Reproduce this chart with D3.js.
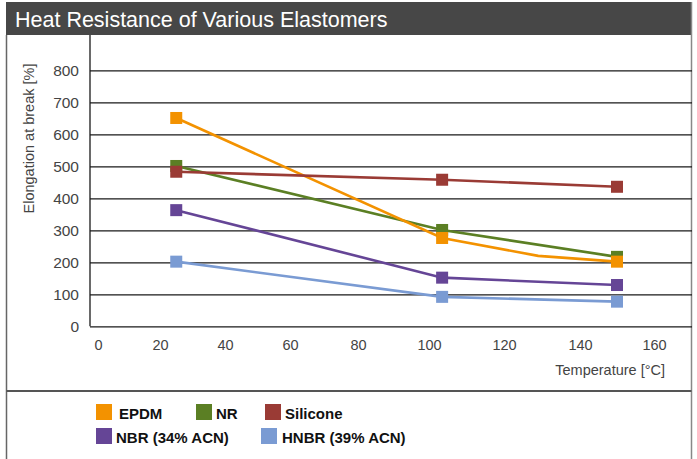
<!DOCTYPE html>
<html><head><meta charset="utf-8">
<script src="https://cdn.jsdelivr.net/npm/d3@7"></script>
<style>body{margin:0;background:#fff;} svg{display:block;font-family:"Liberation Sans",Arial,Helvetica,sans-serif;}</style>
</head><body><svg id="c" width="697" height="459"></svg>
<script>
// ---- data ----
const chartTitle = "Heat Resistance of Various Elastomers";
const yTitle = "Elongation at break [%]";
const xTitle = "Temperature [°C]";
const xTicks = [0, 20, 40, 60, 80, 100, 120, 140, 160];
const yTicks = [0, 100, 200, 300, 400, 500, 600, 700, 800];
const temps = [25, 103.5, 150];
const seriesNames = ["EPDM", "NR", "Silicone", "NBR (34% ACN)", "HNBR (39% ACN)"];
const seriesColors = ["#F39200", "#5B7F24", "#9A3B35", "#654596", "#7A9BD3"];
const epdm = [651, 276, 202];
const nr = [501, 301, 217];
const silicone = [483, 458, 436];
const nbr = [363, 152, 129];
const hnbr = [202, 92, 77];
// EPDM line has one extra vertex without marker
const epdmBendTemp = 129, epdmBendValue = 220;

// ---- layout ----
const W = 697, H = 459;
const frameL = 6.5, frameR = 691.5, barTop = 2, barBot = 35;
const plotL = 90, plotR = 692, plotT = 35, plotB = 326.3;
const sepY = 391;
const xTickPx = [98, 160, 225, 290, 358, 429, 504, 580, 654];

const svg = d3.select("#c");
const x = d3.scaleLinear().domain(xTicks).range(xTickPx);
const y = d3.scaleLinear().domain([0, 800]).range([plotB, 70.3]);

// title bar
svg.append("rect").attr("x", frameL - 0.5).attr("y", barTop).attr("width", frameR - frameL + 1)
  .attr("height", barBot - barTop).attr("fill", "#474747");
svg.append("text").attr("x", 15).attr("y", 27).attr("fill", "#fff")
  .attr("font-size", 21.5).text(chartTitle);

// frame
svg.append("line").attr("x1", frameL).attr("x2", frameL).attr("y1", barBot).attr("y2", H)
  .attr("stroke", "#666").attr("stroke-width", 1.5);
svg.append("line").attr("x1", frameR).attr("x2", frameR).attr("y1", barTop).attr("y2", H)
  .attr("stroke", "#888").attr("stroke-width", 1.5);
svg.append("line").attr("x1", frameL).attr("x2", frameR).attr("y1", sepY).attr("y2", sepY)
  .attr("stroke", "#555").attr("stroke-width", 2);

// grid
const yAxis = d3.axisLeft(y).tickValues(yTicks).tickSize(-(plotR - plotL)).tickPadding(11);
const gy = svg.append("g").attr("transform", `translate(${plotL},0)`).call(yAxis);
gy.select(".domain").remove();
gy.selectAll(".tick line").attr("stroke", "#1a1a1a").attr("stroke-width", 1.3);
gy.selectAll(".tick text").attr("fill", "#444").attr("font-size", 15.5)
  .attr("font-family", "Liberation Sans, Arial, sans-serif");
svg.append("line").attr("x1", plotL).attr("x2", plotL).attr("y1", plotT).attr("y2", plotB)
  .attr("stroke", "#1a1a1a").attr("stroke-width", 1.3);

const xAxis = d3.axisBottom(x).tickValues(xTicks).tickSize(0).tickPadding(13);
const gx = svg.append("g").attr("transform", `translate(0,${plotB})`).call(xAxis);
gx.select(".domain").remove();
gx.selectAll(".tick text").attr("fill", "#444").attr("font-size", 14.5)
  .attr("font-family", "Liberation Sans, Arial, sans-serif");

// axis titles
svg.append("text").attr("transform", `translate(34,${(57 + 220) / 2}) rotate(-90)`)
  .attr("text-anchor", "middle").attr("fill", "#444").attr("font-size", 14.5).text(yTitle);
svg.append("text").attr("x", 665).attr("y", 375).attr("text-anchor", "end")
  .attr("fill", "#444").attr("font-size", 14.5).text(xTitle);

// series
const values = [epdm, nr, silicone, nbr, hnbr];
const series = seriesNames.map((n, i) => {
  const pts = temps.map((t, j) => ({ t, v: values[i][j], marker: true }));
  if (i === 0) pts.splice(2, 0, { t: epdmBendTemp, v: epdmBendValue, marker: false });
  return { name: n, color: seriesColors[i], pts };
});
const drawOrder = [1, 0, 2, 3, 4];
const line = d3.line().x(d => x(d.t)).y(d => y(d.v));
const ms = 12;
drawOrder.forEach(i => {
  const s = series[i];
  svg.append("path").attr("d", line(s.pts)).attr("fill", "none")
    .attr("stroke", s.color).attr("stroke-width", 2.6);
});
drawOrder.forEach(i => {
  const s = series[i];
  svg.selectAll(null).data(s.pts.filter(d => d.marker)).enter().append("rect")
    .attr("x", d => x(d.t) - ms / 2).attr("y", d => y(d.v) - ms / 2)
    .attr("width", ms).attr("height", ms).attr("fill", s.color);
});

// legend
const legendPos = [[96, 404, 119], [196, 404, 216], [265, 404, 285], [96, 428, 116], [261, 428, 282]];
series.forEach((s, i) => {
  const [sx, sy, tx] = legendPos[i];
  svg.append("rect").attr("x", sx).attr("y", sy).attr("width", 16).attr("height", 16).attr("fill", s.color);
  svg.append("text").attr("x", tx).attr("y", sy + 15).attr("fill", "#111")
    .attr("font-size", 15).attr("font-weight", "bold").text(s.name);
});
</script></body></html>
